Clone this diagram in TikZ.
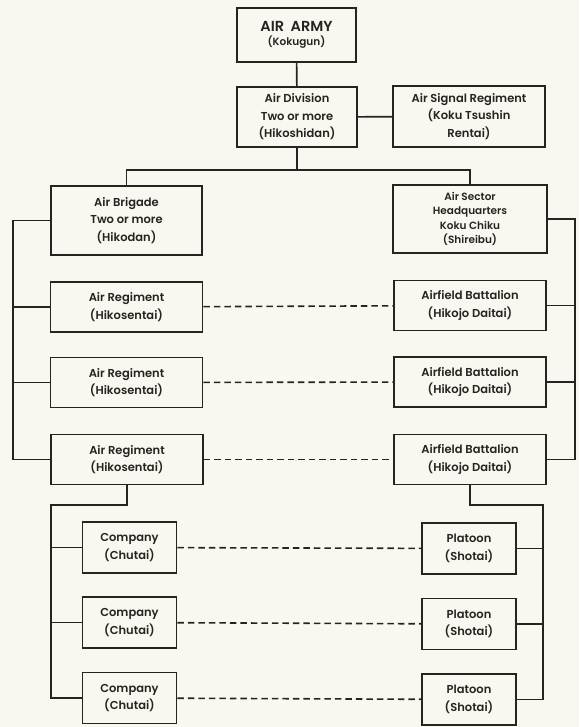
\documentclass[tikz,border=0pt]{standalone}
\usepackage{fontspec}
\setmainfont{Poppins}[UprightFont=* SemiBold]
\definecolor{paper}{RGB}{249,248,240}
\definecolor{ink}{RGB}{38,36,34}
\begin{document}
\begin{tikzpicture}[x=1pt,y=-1pt,
  box/.style={draw=ink,line width=1.8pt,align=center,inner sep=0pt,text=ink,
    font=\fontsize{11.5}{17.5}\selectfont},
  wide/.style={box,minimum width=152pt,minimum height=50pt},
  small/.style={box,minimum width=94pt,minimum height=51pt},
  link/.style={draw=ink,line width=1.6pt},
  dlink/.style={draw=ink,line width=1.6pt,dash pattern=on 6.5pt off 4pt}]
\fill[paper] (0,0) rectangle (579,727);
\useasboundingbox (0,0) rectangle (579,727);

\node[box,minimum width=119pt,minimum height=54pt] (army) at (296.5,35)
  {{\fontsize{14.5}{18}\selectfont AIR\hspace{0.45em}ARMY}\\[-3pt]{\fontsize{10.5}{14}\selectfont (Kokugun)}};
\node[box,minimum width=120pt,minimum height=60pt] (div) at (297,117)
  {Air Division\\Two or more\\(Hikoshidan)};
\node[box,minimum width=152pt,minimum height=61pt,font=\fontsize{11.5}{17.5}\selectfont] (sig) at (469,116.5)
  {Air Signal Regiment\\(Koku Tsushin\\Rentai)};
\node[box,minimum width=151pt,minimum height=69pt] (brig) at (126.5,220.5)
  {Air Brigade\\Two or more\\(Hikodan)};
\node[box,minimum width=154pt,minimum height=68pt,font=\fontsize{10.5}{14.5}\selectfont] (sector) at (470,219)
  {Air Sector\\Headquarters\\Koku Chiku\\(Shireibu)};

\node[wide] (ar1) at (126.5,307) {Air Regiment\\(Hikosentai)};
\node[wide] (ar2) at (126.5,382.5) {Air Regiment\\(Hikosentai)};
\node[wide] (ar3) at (127,459.5) {Air Regiment\\(Hikosentai)};
\node[wide] (ab1) at (470,305.5) {Airfield Battalion\\(Hikojo Daitai)};
\node[wide] (ab2) at (470,382) {Airfield Battalion\\(Hikojo Daitai)};
\node[wide] (ab3) at (470,459.5) {Airfield Battalion\\(Hikojo Daitai)};

\node[small] (c1) at (129.5,547.5) {Company\\(Chutai)};
\node[small] (c2) at (129.5,622.5) {Company\\(Chutai)};
\node[small] (c3) at (129.5,698) {Company\\(Chutai)};
\node[small] (p1) at (469,548.5) {Platoon\\(Shotai)};
\node[small] (p2) at (469,624) {Platoon\\(Shotai)};
\node[small] (p3) at (469,699.5) {Platoon\\(Shotai)};

\coordinate (bar) at (297,170);
\coordinate (lx) at (13,0);
\coordinate (rx) at (575,0);
\coordinate (cl) at (51,505);
\coordinate (pr) at (543,505);

\draw[link] (army) -- (div);
\draw[link] (div) -- (sig);
\draw[link] (div) -- (bar);
\draw[link] (brig.north) |- (bar) -| (sector.north);

\draw[link] (brig.west) -- (brig.west -| lx) |- (ar3.west);
\draw[link] (ar1.west) -- (ar1.west -| lx);
\draw[link] (ar2.west) -- (ar2.west -| lx);
\draw[link] (sector.east) -- (sector.east -| rx) |- (ab3.east);
\draw[link] (ab1.east) -- (ab1.east -| rx);
\draw[link] (ab2.east) -- (ab2.east -| rx);

\draw[dlink] (ar1) -- (ab1);
\draw[dlink] (ar2) -- (ab2);
\draw[dlink] (ar3) -- (ab3);

\draw[link] (ar3.south) |- (cl) |- (c3.west);
\draw[link] (c1.west) -- (c1.west -| cl);
\draw[link] (c2.west) -- (c2.west -| cl);
\draw[link] (ab3.south) |- (pr) |- (p3.east);
\draw[link] (p1.east) -- (p1.east -| pr);
\draw[link] (p2.east) -- (p2.east -| pr);

\draw[dlink] (c1) -- (p1);
\draw[dlink] (c2) -- (p2);
\draw[dlink] (c3) -- (p3);
\end{tikzpicture}
\end{document}
